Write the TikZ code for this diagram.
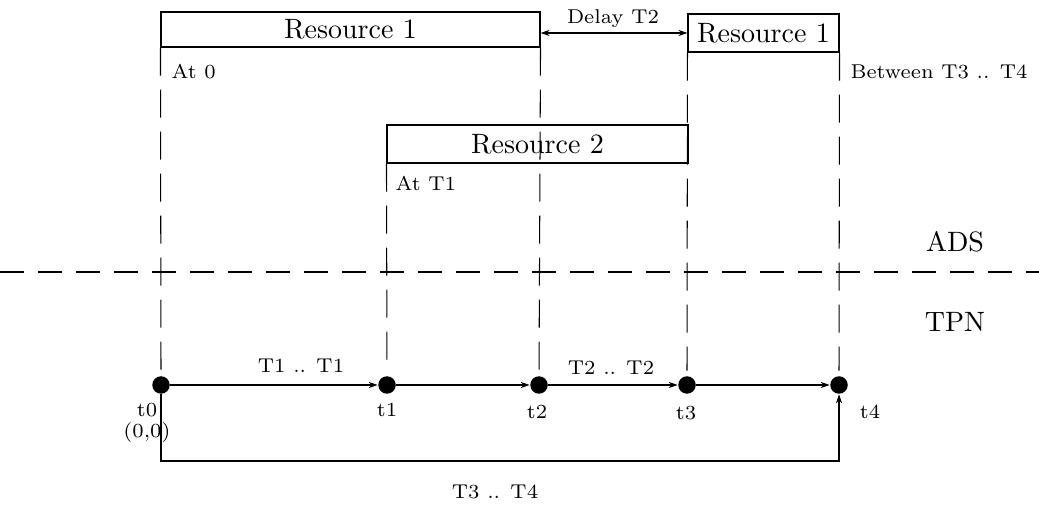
\documentclass[tikz,border=0pt]{standalone}
\usepackage{fontspec}
\usetikzlibrary{arrows.meta}
\newfontfamily\tenrm{lmroman10-regular.otf}
\newfontfamily\sevenrm{lmroman7-regular.otf}
\newcommand{\bigtxt}{\tenrm\fontsize{28}{32}\selectfont}
\newcommand{\smalltxt}{\sevenrm\fontsize{20}{24}\selectfont}
\begin{document}
\begin{tikzpicture}[x=1pt,y=-1pt,line width=1.05pt,
  resbox/.style={draw,rectangle,inner sep=0pt,font=\bigtxt},
  dot/.style={circle,fill=black,inner sep=0pt,minimum size=17.5pt},
  vdash/.style={dash pattern=on 28pt off 14pt,shorten >=5pt},
  hdash/.style={dash pattern=on 24pt off 14pt},
  lbl/.style={font=\smalltxt,inner sep=0pt},
  biglbl/.style={font=\bigtxt,inner sep=0pt},
  arr/.style={-{Stealth[length=9pt,width=6pt]}},
  darr/.style={{Stealth[length=9pt,width=6pt]}-{Stealth[length=9pt,width=6pt]}}]
\useasboundingbox (0,0) rectangle (1039,510);
% boxes
\node[resbox,minimum width=379pt,minimum height=35pt] (R1) at (350.5,29.5) {Resource 1};
\node[resbox,minimum width=151pt,minimum height=38pt] (R1b) at (763.5,33) {Resource 1};
\node[resbox,minimum width=301pt,minimum height=38pt] (R2) at (537.5,144) {Resource 2};
% dots
\node[dot] (t0) at (161,385) {};
\node[dot] (t1) at (387,385) {};
\node[dot] (t2) at (539,385) {};
\node[dot] (t3) at (687,385) {};
\node[dot] (t4) at (839,385) {};
% dashed verticals
\draw[vdash] (R1.south west) -- (t0.north);
\draw[vdash] (R1.south east) -- (t2.north);
\draw[vdash] (R2.south west) -- (t1.north);
\draw[vdash] (R1b.south west) -- (t3.north);
\draw[vdash] (R1b.south east) -- (t4.north);
% separator
\coordinate (sepL) at (0,272);
\coordinate (sepR) at (1039,272);
\draw[hdash] (sepL) -- (sepR);
% delay
\draw[darr] (R1.east |- R1b.west) -- (R1b.west);
\node[lbl] (delay) at (613,19) {Delay T2};
% text labels
\node[lbl,anchor=west] (at0) at (171,72) {At 0};
\node[lbl,anchor=west] (atT1) at (395,183) {At T1};
\node[lbl,anchor=west] (betw) at (850,72) {Between T3 .. T4};
\node[biglbl] (ads) at (955,242) {ADS};
\node[biglbl] (tpn) at (955,322) {TPN};
% TPN arrows
\draw[arr] (t0) -- (t1);
\draw[arr] (t1) -- (t2);
\draw[arr] (t2) -- (t3);
\draw[arr] (t3) -- (t4);
\node[lbl] (l01) at (301,366) {T1 .. T1};
\node[lbl] (l23) at (611,368) {T2 .. T2};
\coordinate (bl) at (161,461);
\draw[arr] (t0.south) -- (bl) -| (t4.south);
\node[lbl] (l04) at (495,492) {T3 .. T4};
\node[lbl] (n0) at (147,410) {t0};
\node[lbl] (n0b) at (147,432) {(0,0)};
\node[lbl] (n1) at (387,410) {t1};
\node[lbl] (n2) at (537,412) {t2};
\node[lbl] (n3) at (686,413) {t3};
\node[lbl] (n4) at (870,412) {t4};
\end{tikzpicture}
\end{document}
